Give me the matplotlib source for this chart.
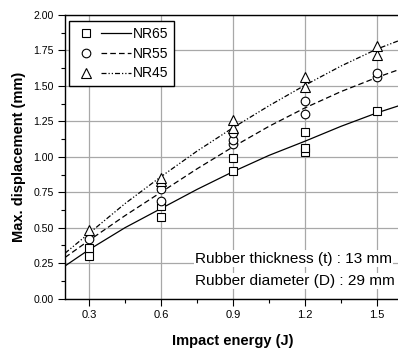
import matplotlib
matplotlib.use("Agg")
import matplotlib.pyplot as plt
from matplotlib.lines import Line2D
from matplotlib.legend_handler import HandlerBase
from matplotlib import font_manager
from matplotlib.ticker import MultipleLocator

# ---------------- data ----------------
energy_pts = [0.3, 0.6, 0.9, 1.2, 1.5]
nr65_pts = [[0.297, 0.356], [0.575, 0.65], [0.90, 0.99], [1.035, 1.064, 1.174], [1.323]]
nr55_pts = [[0.42], [0.69, 0.77], [1.09, 1.12, 1.165], [1.304, 1.396], [1.56, 1.59]]
nr45_pts = [[0.483], [0.83, 0.85], [1.20, 1.257], [1.49, 1.56], [1.717, 1.78]]

curve_x = [0.2, 0.3, 0.45, 0.6, 0.75, 0.9, 1.05, 1.2, 1.35, 1.5, 1.6]
nr65_curve = [0.23, 0.345, 0.50, 0.635, 0.77, 0.895, 1.01, 1.11, 1.215, 1.31, 1.365]
nr55_curve = [0.29, 0.41, 0.585, 0.75, 0.915, 1.07, 1.215, 1.345, 1.46, 1.56, 1.62]
nr45_curve = [0.32, 0.46, 0.67, 0.86, 1.04, 1.205, 1.36, 1.505, 1.64, 1.76, 1.825]

labels = ["NR65", "NR55", "NR45"]
x_ticks = [0.3, 0.6, 0.9, 1.2, 1.5]
y_ticks = [0.00, 0.25, 0.50, 0.75, 1.00, 1.25, 1.50, 1.75, 2.00]

# ---------------- style ----------------
avail = {f.name for f in font_manager.fontManager.ttflist}
base_font = "Liberation Sans" if "Liberation Sans" in avail else "DejaVu Sans"
plt.rcParams['font.family'] = [base_font, 'DejaVu Sans']

fig = plt.figure(figsize=(3.98, 3.52), dpi=100)
ax = fig.add_axes([65 / 398, 53.4 / 352, (401 - 65) / 398, (337 - 53.4) / 352])

markers = ['s', 'o', '^']
msizes = [6, 6.2, 6.5]
linestyles = ['-', (0, (4.5, 2.5)), (0, (4, 1.6, 1, 1.6, 1, 1.6))]
pts_all = [nr65_pts, nr55_pts, nr45_pts]
curves = [nr65_curve, nr55_curve, nr45_curve]

for pts, curve, mk, ms, ls in zip(pts_all, curves, markers, msizes, linestyles):
    ax.plot(curve_x, curve, color='black', lw=0.9, linestyle=ls, zorder=3)
    for xv, ys in zip(energy_pts, pts):
        ax.plot([xv] * len(ys), ys, linestyle='none', marker=mk, markersize=ms,
                markerfacecolor='white', markeredgecolor='black', markeredgewidth=0.8, zorder=4)

ax.set_xlim(0.2, 1.6)
ax.set_ylim(0.0, 2.0)
ax.set_xticks(x_ticks)
ax.set_yticks(y_ticks)
ax.set_xticklabels([f"{v:.1f}" for v in x_ticks], fontsize=8)
ax.set_yticklabels([f"{v:.2f}" for v in y_ticks], fontsize=7.6)
ax.xaxis.set_minor_locator(MultipleLocator(0.15))
ax.yaxis.set_minor_locator(MultipleLocator(0.125))
ax.tick_params(which='major', direction='out', length=5, width=0.8, pad=3)
ax.tick_params(which='minor', direction='out', length=3, width=0.8)
ax.grid(True, which='major', color='#a8a8a8', lw=0.9)
ax.set_axisbelow(True)
for s in ['left', 'bottom', 'top']:
    ax.spines[s].set_linewidth(1.0)
ax.spines['right'].set_visible(False)

ax.set_xlabel("Impact energy (J)", fontsize=10.5, fontweight='bold', labelpad=10)
ax.set_ylabel("Max. displacement (mm)", fontsize=10.5, fontweight='bold', labelpad=5)

# annotation text
ax.text(0.3 + (195 - 89) / 240, (298.6 - 259) / 141.3, "Rubber thickness (t) : 13 mm",
        fontsize=11.1, ha='left', va='center', zorder=5,
        bbox=dict(facecolor='white', edgecolor='none', pad=1.0))
ax.text(0.3 + (195 - 89) / 240, (298.6 - 281) / 141.3, "Rubber diameter (D) : 29 mm",
        fontsize=11.1, ha='left', va='center', zorder=5,
        bbox=dict(facecolor='white', edgecolor='none', pad=1.0))


class MarkerThenLine(HandlerBase):
    def create_artists(self, legend, orig_handle, xdescent, ydescent, width, height,
                       fontsize, trans):
        mk, ms, ls = orig_handle
        y = height / 2 - ydescent
        x0 = -xdescent
        m = Line2D([x0 + 0.2 * width], [y], marker=mk, markersize=ms, linestyle='none',
                   markerfacecolor='white', markeredgecolor='black', markeredgewidth=0.8)
        l = Line2D([x0 + 0.47 * width, x0 + width], [y, y], color='black', lw=0.9, linestyle=ls)
        m.set_transform(trans)
        l.set_transform(trans)
        return [m, l]


handles = [(mk, ms, ls) for mk, ms, ls in zip(markers, msizes, linestyles)]
leg = ax.legend(handles, labels, handler_map={tuple: MarkerThenLine()},
                loc='upper left', bbox_to_anchor=(3.5 / 336, 1 - 6 / 283.6),
                borderaxespad=0, fontsize=10, frameon=True, fancybox=False,
                edgecolor='black', framealpha=1, handlelength=4.1, handletextpad=0.1,
                labelspacing=0.42, borderpad=0.42)
leg.get_frame().set_linewidth(1.0)
leg.set_zorder(6)

fig.savefig("out.png", dpi=100)
